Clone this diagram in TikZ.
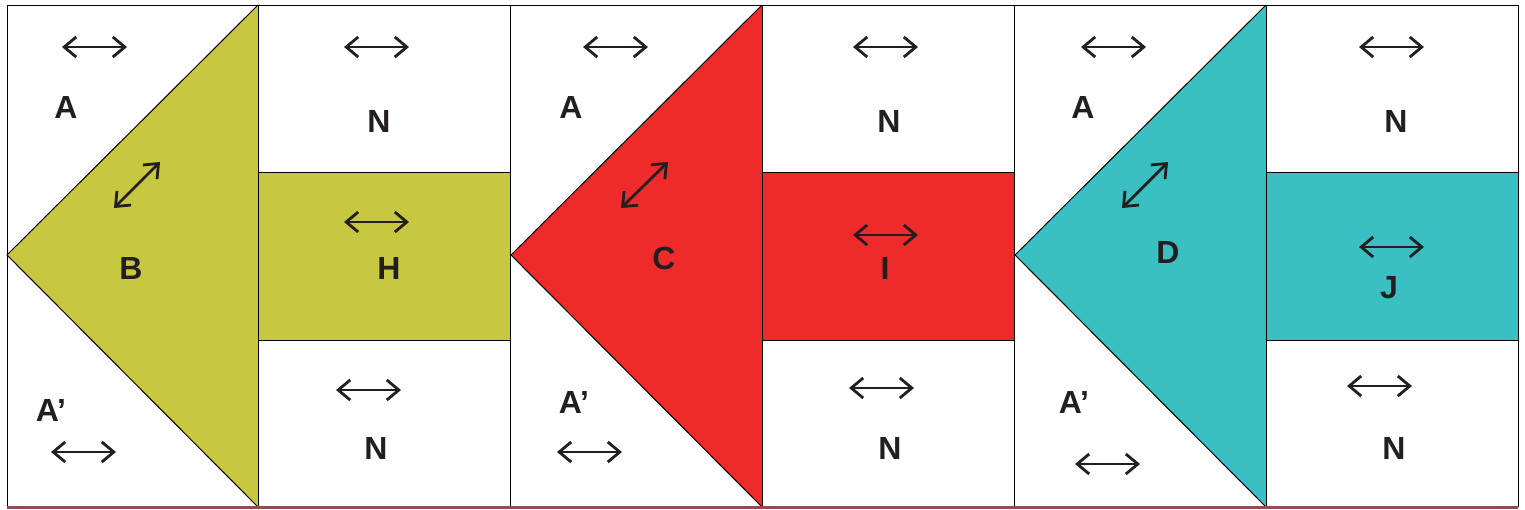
\documentclass[tikz,border=0pt]{standalone}
\usepackage{fontspec}
\setmainfont{Liberation Sans}
\usetikzlibrary{arrows.meta}
\definecolor{olive}{RGB}{200,200,64}
\definecolor{redf}{RGB}{238,42,42}
\definecolor{teal}{RGB}{58,191,194}
\definecolor{ink}{RGB}{35,31,32}
\definecolor{bottomline}{RGB}{140,80,80}
\tikzset{
  dbl/.style={ink, line width=1.4pt, {Straight Barb[length=6pt,width=10pt,line width=1.4pt]}-{Straight Barb[length=6pt,width=10pt,line width=1.4pt]}},
  lbl/.style={font=\fontsize{16}{16}\selectfont\bfseries, text=ink, inner sep=0pt},
  edge/.style={black, line width=0.5pt}
}
\begin{document}
\begin{tikzpicture}[x=0.5pt,y=-0.5pt]
\useasboundingbox (0,0) rectangle (1525,509);
\fill[white] (0,0) rectangle (1525,509);
% panels
\foreach \k/\c/\n in {0/olive/a,1/redf/b,2/teal/c}{
  \pgfmathsetmacro{\xo}{7+504*\k}
  \coordinate (apex\n) at (\xo,255);
  \coordinate (top\n) at (\xo+251,5);
  \coordinate (bot\n) at (\xo+251,507);
  \fill[\c] (apex\n) -- (top\n) -- (bot\n) -- cycle;
  \draw[edge] (top\n) -- (apex\n) -- (bot\n);
  \fill[\c] (\xo+251,172) rectangle (\xo+503,340);
  \draw[edge] (top\n) -- (bot\n);
  \draw[edge] (\xo+251,172) -- (\xo+503,172);
  \draw[edge] (\xo+251,340) -- (\xo+503,340);
  \draw[edge] (\xo+503,5) -- (\xo+503,507);
}
% frame
\draw[edge] (7,507) -- (7,5) -- (1518,5) -- (1518,507);
\draw[bottomline, line width=1.5pt] (7,507.5) -- (1518,507.5);

% panel 1
\coordinate (p1a1) at (62,47); \coordinate (p1a2) at (127,47);
\draw[dbl] (p1a1) -- (p1a2);
\node[lbl] (A1) at (66,107) {A};
\coordinate (p1d1) at (114,208); \coordinate (p1d2) at (160,162);
\draw[dbl] (p1d1) -- (p1d2);
\node[lbl] (B) at (131,268) {B};
\node[lbl] (Ap1) at (51,410) {A’};
\coordinate (p1b1) at (51,452); \coordinate (p1b2) at (116,452);
\draw[dbl] (p1b1) -- (p1b2);
\coordinate (p1n1) at (344,47); \coordinate (p1n2) at (409,47);
\draw[dbl] (p1n1) -- (p1n2);
\node[lbl] (N1) at (379,121) {N};
\coordinate (p1h1) at (344,222); \coordinate (p1h2) at (409,222);
\draw[dbl] (p1h1) -- (p1h2);
\node[lbl] (H) at (389,268) {H};
\coordinate (p1m1) at (336,390); \coordinate (p1m2) at (401,390);
\draw[dbl] (p1m1) -- (p1m2);
\node[lbl] (N2) at (376,448) {N};

% panel 2
\coordinate (p2a1) at (583,47); \coordinate (p2a2) at (648,47);
\draw[dbl] (p2a1) -- (p2a2);
\node[lbl] (A2) at (571,107) {A};
\coordinate (p2d1) at (621,208); \coordinate (p2d2) at (668,162);
\draw[dbl] (p2d1) -- (p2d2);
\node[lbl] (C) at (664,258) {C};
\node[lbl] (Ap2) at (574,402) {A’};
\coordinate (p2b1) at (557,452); \coordinate (p2b2) at (622,452);
\draw[dbl] (p2b1) -- (p2b2);
\coordinate (p2n1) at (853,47); \coordinate (p2n2) at (918,47);
\draw[dbl] (p2n1) -- (p2n2);
\node[lbl] (N3) at (889,121) {N};
\coordinate (p2h1) at (853,235); \coordinate (p2h2) at (918,235);
\draw[dbl] (p2h1) -- (p2h2);
\node[lbl] (I) at (885,268) {I};
\coordinate (p2m1) at (849,388); \coordinate (p2m2) at (914,388);
\draw[dbl] (p2m1) -- (p2m2);
\node[lbl] (N4) at (890,448) {N};

% panel 3
\coordinate (p3a1) at (1081,47); \coordinate (p3a2) at (1146,47);
\draw[dbl] (p3a1) -- (p3a2);
\node[lbl] (A3) at (1083,107) {A};
\coordinate (p3d1) at (1122,208); \coordinate (p3d2) at (1168,162);
\draw[dbl] (p3d1) -- (p3d2);
\node[lbl] (D) at (1168,252) {D};
\node[lbl] (Ap3) at (1074,402) {A’};
\coordinate (p3b1) at (1075,464); \coordinate (p3b2) at (1140,464);
\draw[dbl] (p3b1) -- (p3b2);
\coordinate (p3n1) at (1359,47); \coordinate (p3n2) at (1424,47);
\draw[dbl] (p3n1) -- (p3n2);
\node[lbl] (N5) at (1396,121) {N};
\coordinate (p3h1) at (1359,247); \coordinate (p3h2) at (1424,247);
\draw[dbl] (p3h1) -- (p3h2);
\node[lbl] (J) at (1389,288) {J};
\coordinate (p3m1) at (1347,386); \coordinate (p3m2) at (1412,386);
\draw[dbl] (p3m1) -- (p3m2);
\node[lbl] (N6) at (1394,448) {N};
\end{tikzpicture}
\end{document}
